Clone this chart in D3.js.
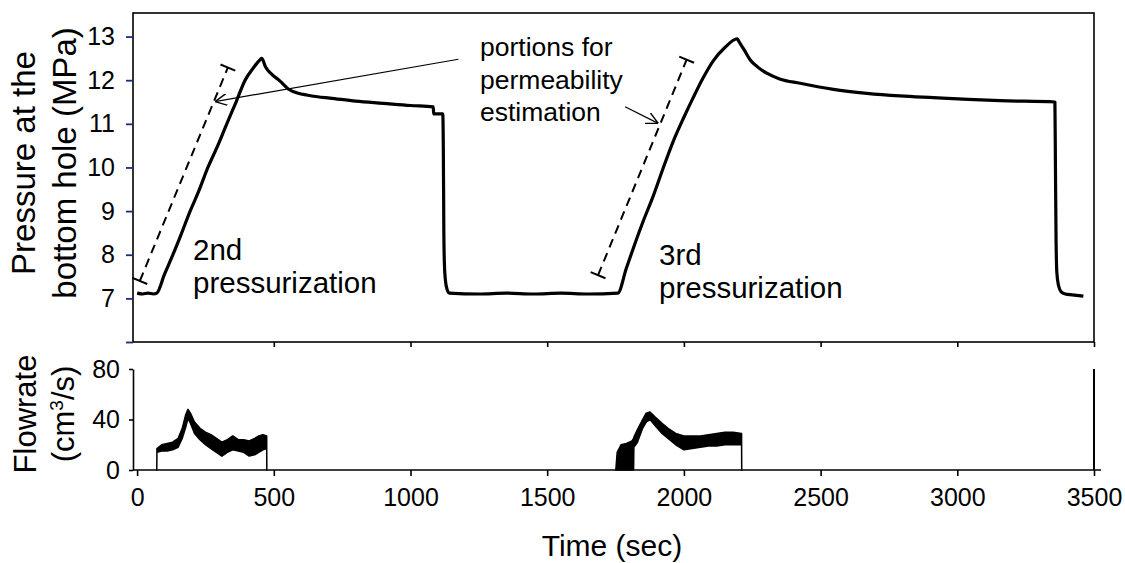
<!DOCTYPE html>
<html>
<head>
<meta charset="utf-8">
<script src="https://cdn.jsdelivr.net/npm/d3@7"></script>
<style>
  body { margin: 0; background: #fff; }
  text { font-family: "Liberation Sans", Arial, sans-serif; fill: #000; }
</style>
</head>
<body>
<div id="chart"></div>
<script>
// bottom hole pressure (sec, MPa)
const pressureTime = [0, 20, 40, 60, 72, 100, 131, 160, 194, 225, 259, 295, 328, 362, 395, 425, 450, 456, 470, 490, 523, 553, 590, 620, 660, 705, 800, 900, 1000, 1083, 1085, 1118, 1120, 1122, 1124, 1128, 1134, 1142, 1250, 1350, 1450, 1550, 1650, 1758, 1790, 1815, 1850, 1888, 1925, 1961, 2000, 2034, 2070, 2108, 2150, 2195, 2200, 2220, 2242, 2270, 2303, 2350, 2425, 2547, 2669, 2790, 2913, 3040, 3156, 3357, 3359, 3361, 3364, 3370, 3380, 3395, 3420, 3461];
const pressureValue = [7.12, 7.10, 7.12, 7.10, 7.12, 7.55, 8.0, 8.45, 9.0, 9.45, 10.0, 10.5, 11.0, 11.5, 12.0, 12.28, 12.47, 12.5, 12.3, 12.15, 11.98, 11.8, 11.7, 11.66, 11.62, 11.59, 11.52, 11.47, 11.42, 11.39, 11.23, 11.23, 10.5, 8.5, 7.8, 7.4, 7.2, 7.12, 7.10, 7.12, 7.10, 7.12, 7.10, 7.12, 7.7, 8.15, 8.75, 9.35, 10.0, 10.6, 11.15, 11.6, 12.05, 12.45, 12.75, 12.95, 12.9, 12.7, 12.47, 12.3, 12.16, 12.03, 11.93, 11.79, 11.70, 11.64, 11.60, 11.56, 11.53, 11.50, 10.0, 8.5, 7.6, 7.3, 7.15, 7.1, 7.08, 7.05];

// flowrate (cm3/s): noisy band given as low / high envelope
const flow1Time = [72, 72.5, 90, 110, 130, 150, 165, 178, 186, 195, 210, 230, 250, 270, 290, 310, 330, 350, 370, 390, 410, 430, 445, 460, 474, 474.5];
const flow1Low  = [0, 14, 15, 15, 16, 18, 25, 34, 41, 37, 29, 24, 20, 17, 14, 11, 14, 16, 15, 14, 11, 12, 14, 16, 17, 0];
const flow1High = [0, 17, 20, 21, 22, 25, 33, 44, 48, 45, 38, 33, 30, 28, 25, 22, 24, 27, 24, 24, 23, 25, 27, 28, 27, 0];
const flow2Time = [1751, 1756, 1770, 1790, 1810, 1816, 1817, 1830, 1849, 1862, 1876, 1895, 1920, 1942, 1970, 2000, 2030, 2060, 2090, 2120, 2150, 2180, 2211, 2211.5];
const flow2Low  = [0, 0, 0, 0, 0, 0, 18, 22, 33, 38, 40, 35, 29, 25, 20, 16, 17, 18, 19, 19, 20, 20, 20, 0];
const flow2High = [0, 14, 20, 21, 23, 25, 26, 32, 40, 45, 46, 42, 37, 33, 29, 27, 27, 27, 28, 29, 30, 30, 29, 0];

const timeTicks = [0, 500, 1000, 1500, 2000, 2500, 3000, 3500];
const pressureTicks = [6, 7, 8, 9, 10, 11, 12, 13];
const flowTicks = [0, 40, 80];

// dashed fitting segments and arrows (sec, MPa)
const fitSegments = [[[10, 7.4], [332, 12.29]], [[1686, 7.53], [2010, 12.47]]];
const arrows = [[[1175, 12.48], [285, 11.51]], [[1785, 11.39], [1906, 11.01]]];

const width = 1125, height = 563;
const svg = d3.select("#chart").append("svg")
  .attr("width", width)
  .attr("height", height);

const x = d3.scaleLinear().domain([-15, 3500]).range([133, 1094]);
const yP = d3.scaleLinear().domain([6, 13.54]).range([342, 13]);
const yQ = d3.scaleLinear().domain([0, 80]).range([470, 369]);

// marker for the open arrowheads
svg.append("defs").append("marker")
  .attr("id", "arrow")
  .attr("viewBox", "0 0 10 10")
  .attr("refX", 10).attr("refY", 5)
  .attr("markerWidth", 12).attr("markerHeight", 12)
  .attr("markerUnits", "userSpaceOnUse")
  .attr("orient", "auto")
  .append("path")
  .attr("d", "M0,0 L10,5 L0,10")
  .attr("fill", "none")
  .attr("stroke", "#000")
  .attr("stroke-width", 1.2);

// ---- top panel ----
svg.append("rect")
  .attr("x", x.range()[0]).attr("y", yP.range()[1])
  .attr("width", x.range()[1] - x.range()[0])
  .attr("height", yP.range()[0] - yP.range()[1])
  .attr("fill", "none").attr("stroke", "#000").attr("stroke-width", 1.6);

const yPAxis = svg.append("g")
  .attr("transform", `translate(${x.range()[0]},0)`)
  .call(d3.axisLeft(yP).tickValues(pressureTicks)
    .tickFormat(d => d === 6 ? "" : d).tickSize(7).tickPadding(11).tickSizeOuter(0));
yPAxis.select(".domain").remove();
yPAxis.selectAll("line").attr("stroke", "#1c2a80").attr("stroke-width", 1.8);
yPAxis.selectAll("text").attr("font-size", 25).attr("font-family", null);

const xTopAxis = svg.append("g")
  .attr("transform", `translate(0,${yP.range()[0]})`)
  .call(d3.axisBottom(x).tickValues(timeTicks.slice(1)).tickFormat("").tickSize(5).tickSizeOuter(0));
xTopAxis.select(".domain").remove();
xTopAxis.selectAll("line").attr("stroke-width", 1.6);

const pLine = d3.line()
  .x(d => x(d[0]))
  .y(d => yP(d[1]))
  .curve(d3.curveMonotoneX);
svg.append("path")
  .datum(d3.zip(pressureTime, pressureValue))
  .attr("fill", "none")
  .attr("stroke", "#000")
  .attr("stroke-width", 3.2)
  .attr("stroke-linejoin", "round")
  .attr("d", pLine);

// dashed segments with end bars
fitSegments.forEach(seg => {
  const [x1, y1] = [x(seg[0][0]), yP(seg[0][1])];
  const [x2, y2] = [x(seg[1][0]), yP(seg[1][1])];
  svg.append("line")
    .attr("x1", x1).attr("y1", y1).attr("x2", x2).attr("y2", y2)
    .attr("stroke", "#000").attr("stroke-width", 2)
    .attr("stroke-dasharray", "9,6");
  const len = Math.hypot(x2 - x1, y2 - y1);
  const nx = -(y2 - y1) / len * 8, ny = (x2 - x1) / len * 8;
  [[x1, y1], [x2, y2]].forEach(([cx, cy]) => {
    svg.append("line")
      .attr("x1", cx - nx).attr("y1", cy - ny)
      .attr("x2", cx + nx).attr("y2", cy + ny)
      .attr("stroke", "#000").attr("stroke-width", 2);
  });
});

arrows.forEach(a => {
  svg.append("line")
    .attr("x1", x(a[0][0])).attr("y1", yP(a[0][1]))
    .attr("x2", x(a[1][0])).attr("y2", yP(a[1][1]))
    .attr("stroke", "#000").attr("stroke-width", 1.2)
    .attr("marker-end", "url(#arrow)");
});

// annotation text
const note = svg.append("text").attr("font-size", 26.5);
["portions for", "permeability", "estimation"].forEach((t, i) => {
  note.append("tspan").attr("x", 480).attr("y", 56 + i * 32.5).text(t);
});
[[193, 260, "2nd"], [659, 265, "3rd"]].forEach(([tx, ty, t]) => {
  const lab = svg.append("text").attr("font-size", 29.5);
  lab.append("tspan").attr("x", tx).attr("y", ty).text(t);
  lab.append("tspan").attr("x", tx).attr("y", ty + 33).text("pressurization");
});

// y title top
const yTitle = svg.append("text")
  .attr("transform", "translate(35,163) rotate(-90)")
  .attr("text-anchor", "middle")
  .attr("font-size", 33);
yTitle.append("tspan").attr("x", 0).attr("y", 0).text("Pressure at the");
yTitle.append("tspan").attr("x", 0).attr("y", 41).text("bottom hole (MPa)");

// ---- bottom panel ----
const yQAxis = svg.append("g")
  .attr("transform", `translate(${x.range()[0]},0)`)
  .call(d3.axisLeft(yQ).tickValues(flowTicks).tickSize(4).tickPadding(9).tickSizeOuter(0));
yQAxis.selectAll("line, path").attr("stroke-width", 1.6);
yQAxis.selectAll("text").attr("font-size", 25).attr("font-family", null);

svg.append("line")
  .attr("x1", x(3500)).attr("x2", x(3500))
  .attr("y1", yQ(0)).attr("y2", yQ(80))
  .attr("stroke", "#000").attr("stroke-width", 2);

const xAxis = svg.append("g")
  .attr("transform", `translate(0,${yQ(0)})`)
  .call(d3.axisBottom(x).tickValues(timeTicks).tickFormat(d3.format("d"))
    .tickSize(6).tickPadding(12).tickSizeOuter(0));
xAxis.select(".domain").attr("d", `M${x.range()[0]},0H${x(3500) + 7}`);
xAxis.selectAll("line, path").attr("stroke-width", 1.6);
xAxis.selectAll("text").attr("font-size", 25).attr("font-family", null);

// flowrate bands
const qArea = d3.area()
  .x(d => x(d[0]))
  .y0(d => yQ(d[1]))
  .y1(d => yQ(d[2]));
[[flow1Time, flow1Low, flow1High], [flow2Time, flow2Low, flow2High]].forEach(([t, lo, hi]) => {
  svg.append("path")
    .datum(d3.zip(t, lo, hi))
    .attr("fill", "#000")
    .attr("stroke", "#000")
    .attr("stroke-width", 1.5)
    .attr("stroke-linejoin", "round")
    .attr("d", qArea);
});

const qTitle = svg.append("text")
  .attr("transform", "translate(36,414) rotate(-90)")
  .attr("text-anchor", "middle")
  .attr("font-size", 31);
qTitle.append("tspan").attr("x", 0).attr("y", 0).text("Flowrate");
const l2 = qTitle.append("tspan").attr("x", 0).attr("y", 38);
l2.append("tspan").text("(cm");
l2.append("tspan").attr("font-size", 19).attr("dy", -11).text("3");
l2.append("tspan").attr("dy", 11).text("/s)");

svg.append("text")
  .attr("x", 612).attr("y", 556)
  .attr("text-anchor", "middle")
  .attr("font-size", 30)
  .text("Time (sec)");
</script>
</body>
</html>
